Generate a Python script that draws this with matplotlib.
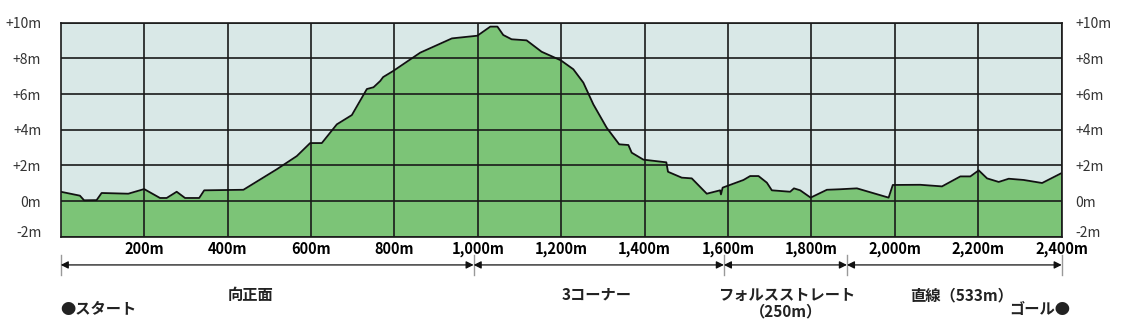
import matplotlib.pyplot as plt
from matplotlib.transforms import ScaledTranslation

plt.rcParams['font.family'] = ['Noto Sans CJK JP', 'DejaVu Sans']

# course elevation profile (distance in m, elevation in m)
dist = [0, 46, 56, 86, 98, 162, 200, 238, 254, 278, 298, 332, 344, 438,
        518, 566, 598, 626, 662, 698, 734, 750, 766, 773, 797, 862, 938,
        999, 1030, 1047, 1061, 1081, 1117, 1153, 1199, 1229, 1253, 1277,
        1309, 1339, 1361, 1369, 1397, 1452, 1456, 1489, 1513, 1549, 1581,
        1583, 1587, 1637, 1653, 1673, 1693, 1705, 1749, 1758, 1773, 1798,
        1837, 1869, 1909, 1985, 1995, 2061, 2113, 2157, 2181, 2201, 2221,
        2249, 2273, 2309, 2353, 2400]
elev = [0.52, 0.30, 0.04, 0.05, 0.45, 0.41, 0.67, 0.17, 0.17, 0.52, 0.17,
        0.17, 0.60, 0.63, 1.78, 2.52, 3.25, 3.25, 4.30, 4.82, 6.28, 6.38,
        6.73, 6.95, 7.29, 8.32, 9.12, 9.27, 9.78, 9.78, 9.31, 9.07, 9.01,
        8.37, 7.89, 7.39, 6.64, 5.42, 4.11, 3.18, 3.14, 2.71, 2.32, 2.17,
        1.64, 1.31, 1.27, 0.41, 0.60, 0.37, 0.75, 1.18, 1.40, 1.40, 1.03,
        0.60, 0.52, 0.71, 0.60, 0.19, 0.63, 0.66, 0.71, 0.19, 0.90, 0.91,
        0.82, 1.38, 1.38, 1.72, 1.27, 1.07, 1.25, 1.18, 1.01, 1.57]

x_ticks = [200, 400, 600, 800, 1000, 1200, 1400, 1600, 1800, 2000, 2200, 2400]
x_labels = ['200m', '400m', '600m', '800m', '1,000m', '1,200m', '1,400m',
            '1,600m', '1,800m', '2,000m', '2,200m', '2,400m']
y_ticks = [-2, 0, 2, 4, 6, 8, 10]
y_labels = ['-2m', '0m', '+2m', '+4m', '+6m', '+8m', '+10m']

# course sections: boundaries and labels
bounds = [0, 990, 1590, 1885, 2400]
sections = ['向正面', '3コーナー', 'フォルスストレート\n（250m）', '直線（533m）']
section_x = [455, 1285, 1740, 2160]

fig = plt.figure(figsize=(11.29, 3.28), dpi=100)
ax = fig.add_axes([0.0538, 0.2784, 0.8866, 0.6524])
ax.set_facecolor('#d9e8e7')

ax.fill_between(dist, elev, -2, color='#7cc477', zorder=1, lw=0)
ax.plot(dist, elev, color='#111111', lw=1.3, zorder=3)

ax.set_xlim(0, 2400)
ax.set_ylim(-2, 10)
ax.set_xticks(x_ticks)
ax.set_xticklabels(x_labels, fontsize=10.5, fontweight='bold')
ax.set_yticks(y_ticks)
ax.set_yticklabels(y_labels, fontsize=10, color='#333333')
ax.tick_params(axis='x', length=0, pad=3)
ax.tick_params(axis='y', length=0, pad=14)
ax.grid(True, color='#1a1a1a', lw=1.2)
ax.set_axisbelow(False)
for s in ax.spines.values():
    s.set_color('#1a1a1a')
    s.set_linewidth(1.2)
    s.set_zorder(4)

# right-hand labels
ax2 = ax.twinx()
ax2.set_ylim(-2, 10)
ax2.set_yticks(y_ticks)
ax2.set_yticklabels(y_labels, fontsize=10, color='#333333')
ax2.tick_params(axis='y', length=0, pad=10)
for s in ax2.spines.values():
    s.set_visible(False)

# lift the -2m labels slightly, as in the original
up = ScaledTranslation(0, 4 / 72, fig.dpi_scale_trans)
for a in (ax, ax2):
    lab = a.get_yticklabels()[0]
    lab.set_transform(lab.get_transform() + up)

tr = ax.get_xaxis_transform()
arrow_y = -0.132
for b in bounds:
    ax.plot([b, b], [-0.085, -0.18], transform=tr, color='#999999', lw=1,
            clip_on=False)
for a, b in zip(bounds[:-1], bounds[1:]):
    ax.annotate('', xy=(b, arrow_y), xytext=(a, arrow_y), xycoords=tr,
                textcoords=tr,
                arrowprops=dict(arrowstyle='<|-|>', color='#111111', lw=0.9,
                                shrinkA=0, shrinkB=0, mutation_scale=11))

for sx, name in zip(section_x, sections):
    ax.text(sx, -0.235, name, transform=tr, ha='center', va='top',
            fontsize=11, fontweight='bold', color='#222222',
            linespacing=1.0, clip_on=False)

ax.text(0, -0.34, '●スタート', transform=tr, ha='left', va='center',
        fontsize=11, fontweight='bold', color='#222222', clip_on=False)
ax.text(2420, -0.34, 'ゴール●', transform=tr, ha='right', va='center',
        fontsize=11, fontweight='bold', color='#222222', clip_on=False)

fig.savefig('out.png', dpi=100)
